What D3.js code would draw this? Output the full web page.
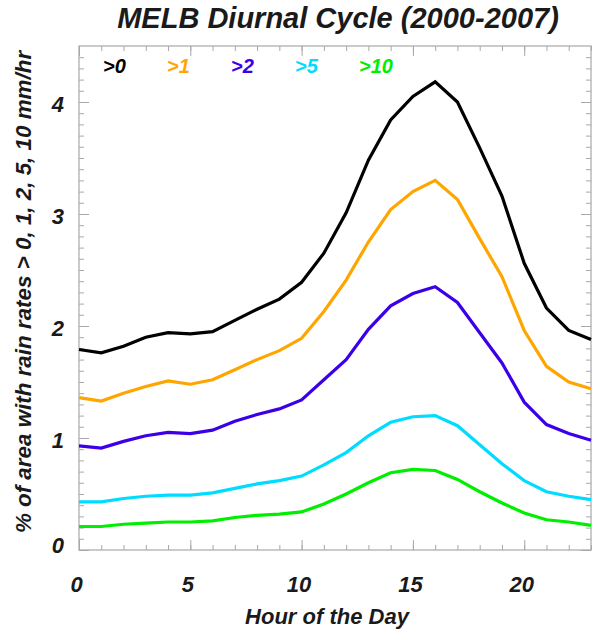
<!DOCTYPE html>
<html><head><meta charset="utf-8">
<script src="https://cdn.jsdelivr.net/npm/d3@7"></script>
<style>body{margin:0;background:#fff}svg{display:block}</style>
</head><body><svg id="c" width="596" height="632"></svg>
<script>
const hours = [0,1,2,3,4,5,6,7,8,9,10,11,12,13,14,15,16,17,18,19,20,21,22,23];
const gt0  = [1.79,1.76,1.82,1.90,1.94,1.93,1.95,2.05,2.15,2.24,2.39,2.65,3.01,3.48,3.84,4.05,4.18,4.00,3.59,3.16,2.56,2.16,1.96,1.88];
const gt1  = [1.36,1.33,1.40,1.46,1.51,1.48,1.52,1.61,1.70,1.78,1.89,2.13,2.41,2.75,3.04,3.20,3.30,3.13,2.78,2.44,1.96,1.64,1.50,1.44];
const gt2  = [0.93,0.91,0.97,1.02,1.05,1.04,1.07,1.15,1.21,1.26,1.34,1.52,1.70,1.97,2.18,2.29,2.35,2.21,1.94,1.67,1.32,1.12,1.04,0.98];
const gt5  = [0.43,0.43,0.46,0.48,0.49,0.49,0.51,0.55,0.59,0.62,0.66,0.76,0.87,1.02,1.14,1.19,1.20,1.11,0.94,0.77,0.62,0.52,0.48,0.45];
const gt10 = [0.21,0.21,0.23,0.24,0.25,0.25,0.26,0.29,0.31,0.32,0.34,0.41,0.50,0.60,0.69,0.72,0.71,0.63,0.52,0.42,0.33,0.27,0.25,0.22];
const seriesNames = [">0", ">1", ">2", ">5", ">10"];
const seriesColors = ["#000000", "#ffa500", "#3c00e8", "#00dcff", "#00ee00"];
const xMajorTicks = [0,5,10,15,20];
const yMajorTicks = [0,1,2,3,4];
const titleText = "MELB Diurnal Cycle (2000-2007)";
const xTitle = "Hour of the Day";
const yTitle = "% of area with rain rates > 0, 1, 2, 5, 10 mm/hr";

const seriesValues = [gt0, gt1, gt2, gt5, gt10];
const font = "'Liberation Sans', Arial, Helvetica, sans-serif";
const svg = d3.select("#c");
const L = 79, R = 591, T = 46, B = 550;
const x = d3.scaleLinear().domain([0, 23]).range([L, R]);
const y = d3.scaleLinear().domain([0, 4.5]).range([B, T]);
const axisColor = "#a8a8a8";
const yMinor = d3.range(0, 45).map(i => i / 10);

function styleAxis(g, labels) {
  g.select(".domain").remove();
  g.selectAll("line").attr("stroke", axisColor).attr("stroke-width", 1);
  if (!labels) g.selectAll("text").remove();
  else g.selectAll("text").attr("fill", "#1a1a1a").attr("font-family", font)
      .attr("font-size", 22).attr("font-weight", "bold").attr("font-style", "italic");
}
// bottom
svg.append("g").attr("transform", `translate(0,${B})`)
  .call(d3.axisBottom(x).tickValues(hours).tickSize(-5)).call(g => styleAxis(g, false));
svg.append("g").attr("transform", `translate(0,${B})`)
  .call(d3.axisBottom(x).tickValues(xMajorTicks).tickSize(-10).tickPadding(26).tickFormat(d3.format("d")))
  .call(g => styleAxis(g, true)).call(g => g.selectAll("text").attr("dx", -3));
// top
svg.append("g").attr("transform", `translate(0,${T})`)
  .call(d3.axisTop(x).tickValues(hours).tickSize(-5)).call(g => styleAxis(g, false));
svg.append("g").attr("transform", `translate(0,${T})`)
  .call(d3.axisTop(x).tickValues(xMajorTicks).tickSize(-10)).call(g => styleAxis(g, false));
// left
svg.append("g").attr("transform", `translate(${L},0)`)
  .call(d3.axisLeft(y).tickValues(yMinor).tickSize(-5)).call(g => styleAxis(g, false));
svg.append("g").attr("transform", `translate(${L},0)`)
  .call(d3.axisLeft(y).tickValues(yMajorTicks).tickSize(-10).tickPadding(15).tickFormat(d3.format("d")))
  .call(g => styleAxis(g, true))
  .call(g => g.selectAll("text").attr("dy", d => d === 0 ? "0.1em" : "0.42em"));
// right
svg.append("g").attr("transform", `translate(${R},0)`)
  .call(d3.axisRight(y).tickValues(yMinor).tickSize(-5)).call(g => styleAxis(g, false));
svg.append("g").attr("transform", `translate(${R},0)`)
  .call(d3.axisRight(y).tickValues(yMajorTicks).tickSize(-10)).call(g => styleAxis(g, false));
// frame
svg.append("rect").attr("x", L).attr("y", T).attr("width", R - L).attr("height", B - T)
  .attr("fill", "none").attr("stroke", axisColor).attr("stroke-width", 1.2);

// lines
const line = d3.line().x((d, i) => x(hours[i])).y(d => y(d));
seriesValues.forEach((vals, k) => {
  svg.append("path").datum(vals).attr("d", line).attr("fill", "none")
    .attr("stroke", seriesColors[k]).attr("stroke-width", 3.2).attr("stroke-linejoin", "miter");
});

// legend
seriesNames.forEach((n, k) => {
  svg.append("text").attr("x", 103 + k * 64).attr("y", 73).text(n)
    .attr("fill", seriesColors[k]).attr("font-family", font).attr("font-size", 20)
    .attr("font-weight", "bold").attr("font-style", "italic");
});

// titles
svg.append("text").attr("x", 338).attr("y", 28).attr("text-anchor", "middle").text(titleText)
  .attr("fill", "#1a1a1a").attr("font-family", font).attr("font-size", 29)
  .attr("font-weight", "bold").attr("font-style", "italic");
svg.append("text").attr("x", 327).attr("y", 624).attr("text-anchor", "middle").text(xTitle)
  .attr("fill", "#1a1a1a").attr("font-family", font).attr("font-size", 22)
  .attr("font-weight", "bold").attr("font-style", "italic");
svg.append("text").attr("transform", "translate(31,292) rotate(-90)").attr("text-anchor", "middle").text(yTitle)
  .attr("fill", "#1a1a1a").attr("font-family", font).attr("font-size", 22.4)
  .attr("font-weight", "bold").attr("font-style", "italic");
</script></body></html>
